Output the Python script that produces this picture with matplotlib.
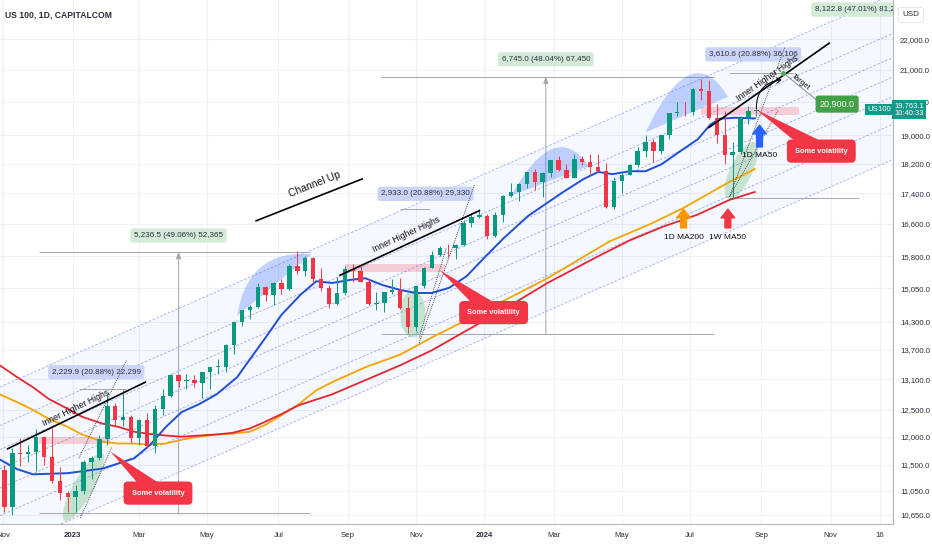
import numpy as np
import matplotlib

matplotlib.use("Agg")
import matplotlib.pyplot as plt
import matplotlib.ticker as mticker
from matplotlib.patches import Ellipse, Polygon, PathPatch
from matplotlib.path import Path
from matplotlib.transforms import IdentityTransform, blended_transform_factory

plt.rcParams["font.family"] = ["Liberation Sans", "DejaVu Sans"]

# ---- weekly OHLC (weeks starting Mon 2022-10-24) ----
WEEK0 = "2022-10-24"
OPEN = [11200, 11400, 10780, 11700, 11680, 11730, 11990, 11630, 11220, 11010,
        10940, 11040, 11540, 11620, 11960, 12570, 12300, 12360, 11970, 12300, 11830, 12520, 12770,
        13180, 13060, 13080, 13020, 13250, 13340, 13340, 13800, 14300, 14550, 14630, 15080, 14900,
        15180, 15030, 15560, 15450, 15750, 15270, 15050, 14700, 14940, 15500, 15460, 15200, 14700,
        14720, 14960, 15000, 14600, 14180, 15100, 15530, 15840, 16000, 15990, 16080, 16620, 16770,
        16800, 16300, 16830, 17310, 17420, 17640, 17960, 17690, 17940, 18300, 18020, 17810, 18340,
        18250, 18110, 18000, 17040, 17720, 17890, 18160, 18550, 18810, 18540, 19000, 19660, 19700,
        19680, 20390, 20330, 19520, 19020, 18440, 18520, 19510, 19720]
HIGH = [11700, 11500, 11790, 11980, 11850, 12150, 12000, 12160, 11450, 11050,
        11150, 11580, 11650, 12030, 12800, 12640, 12880, 12400, 12330, 12450, 12600, 12900, 13200,
        13210, 13200, 13180, 13250, 13350, 13500, 13830, 14320, 14560, 14680, 15180, 15100, 15200,
        15260, 15620, 15930, 15800, 15790, 15510, 15130, 15300, 15580, 15620, 15570, 15260, 14960,
        14970, 15260, 15290, 14860, 15110, 15550, 15930, 16050, 16090, 16100, 16700, 16870, 16970,
        16850, 16900, 17340, 17680, 17670, 17980, 18040, 17980, 18310, 18420, 18200, 18460, 18420,
        18480, 18460, 18230, 17830, 17930, 18190, 18680, 19000, 18910, 19020, 19670, 19980, 20000,
        20410, 20700, 20690, 19930, 19730, 18800, 19560, 19880, 19800]
LOW = [11100, 10690, 10650, 11470, 11550, 11390, 11500, 11180, 10900, 10690,
       10700, 11000, 11250, 11580, 11850, 12200, 12200, 11880, 11850, 11800, 11700, 12400, 12750,
       12950, 12900, 12950, 12720, 12900, 13200, 13250, 13620, 14200, 14350, 14600, 14760, 14680,
       14920, 15000, 15370, 15330, 15160, 14980, 14600, 14660, 14900, 15190, 15190, 14680, 14560,
       14520, 14920, 14590, 14060, 14100, 15050, 15520, 15810, 15780, 15730, 16050, 16530, 16760,
       16220, 16280, 16660, 17300, 17190, 17540, 17480, 17300, 17830, 17990, 17800, 17800, 18150,
       17920, 17980, 17010, 16980, 17400, 17890, 18120, 18390, 18250, 18470, 18900, 19560, 19560,
       19600, 20050, 19480, 18780, 18200, 17280, 18480, 19330, 19580]
CLOSE = [11400, 10780, 11700, 11680, 11730, 11990, 11630, 11220, 11010, 10940,
         11040, 11540, 11620, 11960, 12570, 12300, 12360, 11970, 12300, 11830, 12520, 12770, 13180,
         13060, 13080, 13020, 13250, 13340, 13340, 13800, 14300, 14550, 14630, 15080, 14900, 15180,
         15030, 15560, 15450, 15750, 15270, 15050, 14700, 14940, 15500, 15460, 15200, 14700, 14720,
         14960, 15000, 14600, 14180, 15100, 15530, 15840, 16000, 15990, 16080, 16620, 16770, 16830,
         16300, 16830, 17310, 17420, 17640, 17960, 17690, 17940, 18300, 18020, 17810, 18340, 18250,
         18110, 18000, 17040, 17720, 17890, 18160, 18550, 18810, 18540, 19000, 19660, 19700, 19680,
         20390, 20330, 19520, 19020, 18440, 18520, 19510, 19720, 19763]
LAST_PRICE = 19763.1

# ---- moving averages ----
MA50_DATES = ["2022-10-28", "2022-11-14", "2022-11-28", "2022-12-28", "2023-01-27", "2023-02-24",
              "2023-03-10", "2023-03-24", "2023-04-07", "2023-04-24", "2023-05-09", "2023-05-26",
              "2023-06-07", "2023-06-21", "2023-07-05", "2023-07-21", "2023-08-04", "2023-08-18",
              "2023-09-04", "2023-09-18", "2023-10-03", "2023-10-18", "2023-11-01", "2023-11-15",
              "2023-11-30", "2023-12-15", "2024-01-02", "2024-01-17", "2024-02-08", "2024-03-11",
              "2024-03-28", "2024-04-10", "2024-04-23", "2024-05-08", "2024-05-22", "2024-06-05",
              "2024-06-20", "2024-07-08", "2024-07-18", "2024-07-26", "2024-08-09", "2024-08-27"]
MA50 = [11590, 11420, 11330, 11350, 11430, 11610, 11850, 12180, 12460, 12610, 12800, 13140,
        13500, 13960, 14450, 14900, 15210, 15170, 15240, 15280, 15120, 15010, 14940, 14940,
        15060, 15330, 15800, 16230, 16810, 17430, 17780, 17970, 17910, 17990, 17990, 18180,
        18520, 18890, 19320, 19490, 19520, 19500]

MA200_DATES = ["2022-10-28", "2022-11-14", "2022-11-28", "2022-12-12", "2022-12-28", "2023-01-10",
               "2023-01-27", "2023-02-10", "2023-02-24", "2023-03-10", "2023-03-24", "2023-04-07",
               "2023-04-24", "2023-05-09", "2023-05-23", "2023-06-07", "2023-06-21", "2023-07-05",
               "2023-07-20", "2023-08-04", "2023-08-18", "2023-09-18", "2023-10-18", "2023-11-15",
               "2023-12-15", "2024-01-15", "2024-02-26", "2024-04-19", "2024-05-24", "2024-06-24",
               "2024-08-05", "2024-08-27"]
MA200 = [12800, 12650, 12500, 12330, 12180, 12040, 11910, 11875, 11875, 11855, 11875, 11945,
         12000, 12040, 12055, 12090, 12220, 12400, 12610, 12880, 13040, 13340, 13600, 13960,
         14340, 14720, 15280, 16160, 16580, 16990, 17700, 18050]

W50_DATES = ["2022-10-28", "2022-11-14", "2022-11-28", "2022-12-12", "2022-12-28", "2023-01-10",
             "2023-01-27", "2023-02-10", "2023-02-24", "2023-03-10", "2023-03-24", "2023-04-07",
             "2023-04-24", "2023-05-09", "2023-05-23", "2023-06-07", "2023-06-21", "2023-07-05",
             "2023-07-20", "2023-08-18", "2023-09-18", "2023-10-18", "2023-11-15", "2023-12-15",
             "2024-01-15", "2024-02-26", "2024-04-10", "2024-05-08", "2024-06-06", "2024-07-08",
             "2024-08-05", "2024-08-27"]
W50 = [13380, 13140, 12940, 12710, 12520, 12370, 12240, 12180, 12090, 12050, 12020, 12000,
       12020, 12040, 12070, 12150, 12280, 12420, 12590, 12800, 13080, 13380, 13690, 14110,
       14520, 15170, 15800, 16190, 16530, 16840, 17220, 17430]

# ---- drawings on the chart ----
CH_DATES = ["2023-01-02", "2024-07-01"]
CH_TOP = [13590, 20560]
CH_BOT = [10585, 15990]
CH_LEVELS = [0, 0.236, 0.382, 0.5, 0.618, 0.786, 1]   # fib channel levels, from the top

PINK_ZONES = [("2022-12-02", "2023-02-03", 11860, 12000),
              ("2023-08-30", "2023-11-27", 15420, 15610),
              ("2024-07-10", "2024-10-04", 19610, 19850)]
DOMES = [(("2023-05-26", 14430), ("2023-06-06", 15990), ("2023-08-01", 15850)),
         (("2024-01-24", 17330), ("2024-03-04", 19550), ("2024-04-02", 18130)),
         (("2024-05-22", 19090), ("2024-07-02", 22130), ("2024-08-02", 20150))]
GREEN_ZONES = [(("2022-12-26", 10560), ("2023-01-27", 11700), 20),
               (("2023-10-30", 13960), ("2023-10-30", 15000), 25),
               (("2024-08-02", 17250), ("2024-08-27", 18800), 22)]
CALLOUTS = [(("2023-03-17", 11010), ("2023-02-03", 11730)),
            (("2024-01-09", 14500), ("2023-11-22", 15470)),
            (("2024-10-24", 18550), ("2024-08-28", 19760))]
TREND_LINES = [(("2022-11-04", 11780), ("2023-03-07", 13040), ("2023-01-04", 12540), "Inner Higher Highs"),
               (("2023-08-25", 15350), ("2023-12-27", 16940), ("2023-10-24", 16330), "Inner Higher Highs"),
               (("2024-07-17", 19230), ("2024-10-31", 21870), ("2024-09-06", 20740), "Inner Higher Highs"),
               (("2023-06-13", 16680), ("2023-09-14", 17780), ("2023-08-03", 17640), "Channel Up")]
DOTTED = [(("2023-01-06", 11610), ("2023-02-17", 13480)),
          (("2023-01-09", 10600), ("2023-02-06", 11820)),
          (("2023-11-03", 13850), ("2023-12-22", 17640)),
          (("2023-11-03", 13960), ("2023-11-28", 15990)),
          (("2024-08-05", 17300), ("2024-09-23", 21740)),
          (("2024-08-05", 17300), ("2024-09-17", 19760))]
# price ranges: label, kind, x of label/vertical, label price, low, high, x-start, x-end, lines shown
RANGES = [("2,229.9 (20.88%) 22,299", "b", "2023-01-23", 13240, 10680, 12910, "2023-01-06", "2023-02-17", "top"),
          ("5,236.5 (49.06%) 52,365", "g", "2023-04-05", 16310, 10674, 15910, "2022-12-02", "2023-07-31", "both"),
          ("2,933.0 (20.88%) 29,330", "b", "2023-11-09", 17380, 14047, 16980, "2023-10-18", "2023-11-14", "top"),
          ("6,745.0 (48.04%) 67,450", "g", "2024-02-23", 21340, 14040, 20785, "2023-10-02", "2024-07-22", "both"),
          ("3,610.6 (20.88%) 36,106", "b", "2024-08-26", 21500, 17292, 20903, "2024-08-05", "2024-09-30", "top"),
          ("8,122.8 (47.01%) 81,228", "g", "2024-11-27", 23020, 17279, 25402, "2024-08-05", "2024-11-27", "bottom")]
MA_ARROWS = [("1D MA50", "2024-08-30", 18670, 19300, 18520, "#2962ff"),
             ("1D MA200", "2024-06-25", 16500, 16980, 16350, "#ff9800"),
             ("1W MA50", "2024-08-02", 16500, 16980, 16350, "#f23645")]
TARGET = 20900.0
TARGET_DATE = "2024-09-20"

XT_DATES = ["2022-11-01", "2023-01-02", "2023-03-01", "2023-05-01", "2023-07-03", "2023-09-01",
            "2023-11-01", "2024-01-01", "2024-03-01", "2024-05-01", "2024-07-01", "2024-09-02",
            "2024-11-01", "2024-12-16"]
XT_LABELS = ["Nov", "2023", "Mar", "May", "Jul", "Sep", "Nov", "2024", "Mar", "May", "Jul", "Sep",
             "Nov", "16"]
YTICKS = [10650, 11050, 11500, 12000, 12500, 13100, 13700, 14300, 15050, 15800, 16600, 17400,
          18200, 19000, 20000, 21000, 22000]

UP, DOWN = "#089981", "#f23645"
RED = "#f23645"
ORIGIN = "2022-11-01"


def bx(d):
    """Trading-bar index (Mon-Fri) counted from ORIGIN."""
    return np.busday_count(ORIGIN, np.asarray(d, dtype="datetime64[D]"))


def pt(d, p):
    return (float(bx(d)), p)


fig = plt.figure(figsize=(9.32, 5.5), dpi=100)
ax = fig.add_axes([0, 26 / 550, 893 / 932, 524 / 550])
ax.set_yscale("log")
ax.set_xlim(-1.8, 562.3)
ax.set_ylim(10503, 23360)
ax.set_facecolor("white")

ax.yaxis.set_major_locator(mticker.FixedLocator(YTICKS))
ax.yaxis.set_minor_locator(mticker.NullLocator())
ax.yaxis.set_major_formatter(mticker.FuncFormatter(lambda v, _: f"{v:,.1f}"))
ax.yaxis.tick_right()
ax.tick_params(axis="y", length=0, pad=5, labelsize=5.6, labelcolor="#2a2e39")
ax.set_xticks(bx(XT_DATES))
ax.set_xticklabels(XT_LABELS)
ax.tick_params(axis="x", length=0, pad=6, labelsize=5.6, labelcolor="#2a2e39")
for lab in ax.get_xticklabels():
    if lab.get_text() in ("2023", "2024"):
        lab.set_fontweight("bold")
ax.grid(True, color="#eef1f6", lw=0.8, zorder=0)
ax.set_axisbelow(True)
for s in ("top", "left"):
    ax.spines[s].set_visible(False)
for s in ("right", "bottom"):
    ax.spines[s].set_color("#b2b5be")
    ax.spines[s].set_linewidth(0.8)

xl = np.array(ax.get_xlim())

# fib channel: levels in log space between top and bottom line
x0, x1 = bx(CH_DATES)
xx = np.linspace(xl[0], xl[1], 50)
lt = np.log(CH_TOP[0]) + (np.log(CH_TOP[1]) - np.log(CH_TOP[0])) * (xx - x0) / (x1 - x0)
lb = np.log(CH_BOT[0]) + (np.log(CH_BOT[1]) - np.log(CH_BOT[0])) * (xx - x0) / (x1 - x0)
ax.fill_between(xx, np.exp(lb), np.exp(lt), color="#2962ff", alpha=0.045, lw=0, zorder=1)
for f in CH_LEVELS:
    ax.plot(xx, np.exp(lt - f * (lt - lb)), color="#3d5afe", alpha=0.5, lw=0.6,
            ls=(0, (3, 2)), zorder=1.5)

# price ranges
for label, kind, xd, lp, lo, hi, xs, xe, lines in RANGES:
    a, b = bx([xs, xe])
    if lines in ("top", "both"):
        ax.hlines(hi, a, b, color="#a3a6af", lw=0.7, zorder=2)
    if lines in ("bottom", "both"):
        ax.hlines(lo, a, b, color="#a3a6af", lw=0.7, zorder=2)
    if kind == "g":
        ax.annotate("", xy=(bx(xd), hi), xytext=(bx(xd), lo),
                    arrowprops=dict(arrowstyle="-|>,head_length=0.4,head_width=0.15",
                                    color="#a3a6af", lw=0.7, shrinkA=0, shrinkB=0), zorder=2)
    fc = "#c9d4f6" if kind == "b" else "#d3ebd6"
    ax.text(bx(xd), lp, label, ha="center", va="center", fontsize=5.8, color="#2b3141",
            bbox=dict(boxstyle="round,pad=0.45,rounding_size=0.3", fc=fc, ec="none"),
            zorder=4, clip_on=True)

# zones
for xs, xe, lo, hi in PINK_ZONES:
    a, b = bx([xs, xe])
    ax.fill_between([a, b], lo, hi, color="#f23645", alpha=0.22, lw=0, zorder=2.5)
for p0, pc, p2 in DOMES:
    verts = [pt(*p0), pt(*pc), pt(*p2), pt(*p0)]
    path = Path(verts, [Path.MOVETO, Path.CURVE3, Path.CURVE3, Path.CLOSEPOLY])
    ax.add_patch(PathPatch(path, fc="#2962ff", ec="none", alpha=0.27, zorder=2.5))
for p0, p1, w in GREEN_ZONES:
    a, b = ax.transData.transform([pt(*p0), pt(*p1)])
    ang = np.degrees(np.arctan2(b[1] - a[1], b[0] - a[0]))
    ax.add_patch(Ellipse((a + b) / 2, np.hypot(*(b - a)), w, angle=ang,
                         transform=IdentityTransform(), fc="#4caf50", ec="none",
                         alpha=0.28, zorder=2.5))

# moving averages
ax.plot(bx(MA200_DATES), MA200, color="#f7a400", lw=1.3, zorder=3)
ax.plot(bx(W50_DATES), W50, color="#e8252f", lw=1.3, zorder=3)
ax.plot(bx(MA50_DATES), MA50, color="#1f4fd8", lw=1.4, zorder=3)

# candles
o, h, l, c = (np.array(v, dtype=float) for v in (OPEN, HIGH, LOW, CLOSE))
mid = np.datetime64(WEEK0) + np.arange(len(c)) * 7 + 2
xc = bx(mid)
col = np.where(c >= o, UP, DOWN)
ax.vlines(xc, l, h, colors=col, lw=0.7, zorder=4)
body_lo = np.minimum(o, c)
body_h = np.maximum(np.abs(c - o), body_lo * 0.0012)
ax.bar(xc, body_h, bottom=body_lo, width=2.8, color=col, lw=0, zorder=4)

# dotted projections
for p0, p1 in DOTTED:
    (a, pa), (b, pb) = pt(*p0), pt(*p1)
    ax.plot([a, b], [pa, pb], color="#3a3d45", lw=0.6, ls=(0, (1.2, 1.2)), zorder=4.5)


def disp_angle(p0, p1):
    a, b = ax.transData.transform([p0, p1])
    return np.degrees(np.arctan2(b[1] - a[1], b[0] - a[0]))


for p0, p1, pl, text in TREND_LINES:
    (a, pa), (b, pb) = pt(*p0), pt(*p1)
    ax.plot([a, b], [pa, pb], color="black", lw=1.2, zorder=5)
    ax.text(*pt(*pl), text, rotation=disp_angle(pt(*p0), pt(*p1)), rotation_mode="anchor",
            ha="center", va="center", fontsize=7.5 if text == "Channel Up" else 6.3,
            color="#111111", zorder=5)

# callouts
for box, tip in CALLOUTS:
    cb, tp = ax.transData.transform([pt(*box), pt(*tip)])
    d = (tp - cb) / np.hypot(*(tp - cb))
    perp = np.array([-d[1], d[0]])
    ax.add_patch(Polygon([tp, cb + 9 * perp, cb - 9 * perp], closed=True,
                         transform=IdentityTransform(), fc=RED, ec="none", zorder=6))
    ax.text(*pt(*box), "Some volatility", ha="center", va="center", fontsize=5.3,
            fontweight="bold", color="white", zorder=7,
            bbox=dict(boxstyle="round,pad=1.1,rounding_size=0.6", fc=RED, ec="none"))

# MA arrows and labels
for text, d, tail, head, tp, color in MA_ARROWS:
    ax.annotate("", xy=pt(d, head), xytext=pt(d, tail), zorder=6,
                arrowprops=dict(arrowstyle="simple,head_length=0.9,head_width=1.4,tail_width=0.6",
                                fc=color, ec=color, mutation_scale=7, shrinkA=0, shrinkB=0))
    ax.text(*pt(d, tp), text, ha="center", va="top", fontsize=6, color="#111111", zorder=6)

# target
ax.annotate("", xy=pt("2024-09-19", 20680), xytext=pt("2024-08-28", 19800), zorder=6,
            arrowprops=dict(arrowstyle="->,head_length=0.3,head_width=0.2", color="#111111",
                            lw=0.8, connectionstyle="arc3,rad=-0.45", shrinkA=0, shrinkB=0))
tgt = pt(TARGET_DATE, TARGET)
lab = pt("2024-10-21", 20055)
ax.plot([tgt[0], lab[0]], [tgt[1], lab[1]], color="#8a8d96", lw=0.7, zorder=5)
ax.plot(*tgt, "o", color="#4caf50", ms=2.5, zorder=6)
ax.text(*pt("2024-10-07", 20620), "Target", rotation=disp_angle(tgt, lab), rotation_mode="anchor",
        ha="center", va="center", fontsize=5.6, color="#111111", zorder=6)
ax.text(*pt("2024-11-07", 19930), f"{TARGET:,.1f}", ha="center", va="center", fontsize=6.5,
        color="white", zorder=6,
        bbox=dict(boxstyle="round,pad=0.45,rounding_size=0.3", fc="#43a047", ec="none"))

# title and price scale labels
ax.text(0.006, 0.971, "US 100, 1D, CAPITALCOM", transform=ax.transAxes, fontsize=6.2,
        fontweight="bold", color="#2a2e39", va="center", zorder=8)
tr = blended_transform_factory(ax.transAxes, ax.transData)
ax.text(0.998, LAST_PRICE, "US100", transform=tr, ha="right", va="center", fontsize=5.6,
        color="white", clip_on=False, zorder=9,
        bbox=dict(boxstyle="square,pad=0.3", fc="#139a87", ec="none"))
ax.text(1.0015, LAST_PRICE, f"{LAST_PRICE:,.1f}\n10:40:33", transform=tr, ha="left",
        va="center", fontsize=5.5, color="white", linespacing=1.05, clip_on=False, zorder=9,
        bbox=dict(boxstyle="square,pad=0.3", fc="#139a87", ec="none"))
fig.text(911 / 932, 1 - 15 / 550, "USD", ha="center", va="center", fontsize=5.8,
         color="#2a2e39",
         bbox=dict(boxstyle="round,pad=0.5,rounding_size=0.3", fc="white", ec="#e0e3eb", lw=0.6))

fig.savefig("out.png", dpi=100, facecolor="white")
